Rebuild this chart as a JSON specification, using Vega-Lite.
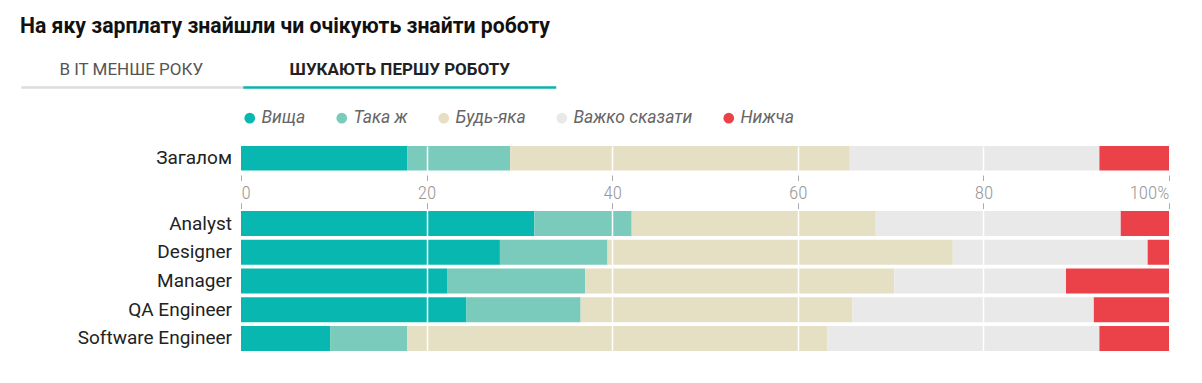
{
  "$schema": "https://vega.github.io/schema/vega-lite/v6.json",
  "background": "white",
  "padding": {"left": 20, "top": 15, "right": 10, "bottom": 10},
  "autosize": {"type": "pad"},
  "title": {
    "text": "На яку зарплату знайшли чи очікують знайти роботу",
    "anchor": "start",
    "font": "Roboto",
    "fontSize": 21.2,
    "fontWeight": "bold",
    "color": "#111111",
    "offset": 12
  },
  "config": {"view": {"stroke": null}, "font": "Roboto"},
  "spacing": 0,
  "resolve": {
    "scale": {"x": "independent", "y": "independent"},
    "legend": {"color": "independent"}
  },
  "datasets": {
    "tabs": [
      {"tab": "В ІТ МЕНШЕ РОКУ", "start": 0, "end": 222, "mid": 110, "active": false},
      {"tab": "ШУКАЮТЬ ПЕРШУ РОБОТУ", "start": 222, "end": 535, "mid": 378.5, "active": true}
    ],
    "salary": [
      {"group": "Загалом", "category": "Вища", "rank": 1, "value": 17.9},
      {"group": "Загалом", "category": "Така ж", "rank": 2, "value": 11.1},
      {"group": "Загалом", "category": "Будь-яка", "rank": 3, "value": 36.6},
      {"group": "Загалом", "category": "Важко сказати", "rank": 4, "value": 26.9},
      {"group": "Загалом", "category": "Нижча", "rank": 5, "value": 7.5},
      {"group": "Analyst", "category": "Вища", "rank": 1, "value": 31.6},
      {"group": "Analyst", "category": "Така ж", "rank": 2, "value": 10.5},
      {"group": "Analyst", "category": "Будь-яка", "rank": 3, "value": 26.3},
      {"group": "Analyst", "category": "Важко сказати", "rank": 4, "value": 26.4},
      {"group": "Analyst", "category": "Нижча", "rank": 5, "value": 5.2},
      {"group": "Designer", "category": "Вища", "rank": 1, "value": 27.9},
      {"group": "Designer", "category": "Така ж", "rank": 2, "value": 11.6},
      {"group": "Designer", "category": "Будь-яка", "rank": 3, "value": 37.2},
      {"group": "Designer", "category": "Важко сказати", "rank": 4, "value": 21.0},
      {"group": "Designer", "category": "Нижча", "rank": 5, "value": 2.3},
      {"group": "Manager", "category": "Вища", "rank": 1, "value": 22.2},
      {"group": "Manager", "category": "Така ж", "rank": 2, "value": 14.9},
      {"group": "Manager", "category": "Будь-яка", "rank": 3, "value": 33.3},
      {"group": "Manager", "category": "Важко сказати", "rank": 4, "value": 18.5},
      {"group": "Manager", "category": "Нижча", "rank": 5, "value": 11.1},
      {"group": "QA Engineer", "category": "Вища", "rank": 1, "value": 24.3},
      {"group": "QA Engineer", "category": "Така ж", "rank": 2, "value": 12.3},
      {"group": "QA Engineer", "category": "Будь-яка", "rank": 3, "value": 29.3},
      {"group": "QA Engineer", "category": "Важко сказати", "rank": 4, "value": 26.0},
      {"group": "QA Engineer", "category": "Нижча", "rank": 5, "value": 8.1},
      {"group": "Software Engineer", "category": "Вища", "rank": 1, "value": 9.6},
      {"group": "Software Engineer", "category": "Така ж", "rank": 2, "value": 8.3},
      {"group": "Software Engineer", "category": "Будь-яка", "rank": 3, "value": 45.3},
      {"group": "Software Engineer", "category": "Важко сказати", "rank": 4, "value": 29.3},
      {"group": "Software Engineer", "category": "Нижча", "rank": 5, "value": 7.5}
    ]
  },
  "vconcat": [
    {
      "width": 928,
      "height": 60,
      "data": {"name": "tabs"},
      "layer": [
        {
          "mark": {"type": "rule", "strokeWidth": 2.5},
          "encoding": {
            "x": {"field": "start", "type": "quantitative", "scale": {"domain": [0, 535], "range": [-219.75, 315.25], "nice": false, "zero": false}, "axis": null},
            "x2": {"field": "end"},
            "y": {"datum": 0.36, "type": "quantitative", "scale": {"domain": [0, 1], "nice": false}, "axis": null},
            "color": {"condition": {"test": "datum.active", "value": "#0bb3ab"}, "value": "#dddddd"}
          }
        },
        {
          "transform": [{"filter": "!datum.active"}],
          "mark": {"type": "text", "font": "Roboto", "fontSize": 17, "color": "#555555", "baseline": "alphabetic", "align": "center"},
          "encoding": {
            "x": {"field": "mid", "type": "quantitative"},
            "y": {"datum": 0.57, "type": "quantitative"},
            "text": {"field": "tab"}
          }
        },
        {
          "transform": [{"filter": "datum.active"}],
          "mark": {"type": "text", "font": "Roboto", "fontSize": 17, "fontWeight": "bold", "color": "#222222", "baseline": "alphabetic", "align": "center"},
          "encoding": {
            "x": {"field": "mid", "type": "quantitative"},
            "y": {"datum": 0.57, "type": "quantitative"},
            "text": {"field": "tab"}
          }
        }
      ]
    },
    {
      "width": 928,
      "height": 24.5,
      "data": {"name": "salary"},
      "transform": [{"filter": "datum.group === 'Загалом'"}],
      "mark": {"type": "bar"},
      "encoding": {
        "y": {
          "field": "group", "type": "nominal",
          "scale": {"paddingInner": 0, "paddingOuter": 0},
          "axis": {"title": null, "domain": false, "ticks": false, "tickSize": 0, "labelPadding": 9.5, "labelFont": "Roboto", "labelFontSize": 19, "labelColor": "#222222", "minExtent": 221, "maxExtent": 221}
        },
        "x": {
          "field": "value", "type": "quantitative", "stack": "zero",
          "scale": {"domain": [0, 100], "nice": false},
          "axis": {
            "orient": "bottom", "values": [0, 20, 40, 60, 80, 100], "title": null, "domain": false,
            "ticks": true, "tickSize": 5.5, "tickColor": "#aaaaaa", "tickWidth": 1, "offset": 4.5,
            "labelPadding": 2.5, "labelFont": "Roboto Condensed, Liberation Sans Narrow, Roboto", "labelFontWeight": 300, "labelFontSize": 19, "labelColor": "#999999",
            "labelFlush": true, "labelExpr": "datum.value == 100 ? '100%' : datum.label",
            "grid": true, "gridColor": "#ffffff", "gridWidth": 1.5,
            "gridOpacity": {"condition": {"test": "datum.value == 0 || datum.value == 100", "value": 0}, "value": 1},
            "zindex": 1
          }
        },
        "order": {"field": "rank", "type": "quantitative", "sort": "ascending"},
        "color": {
          "field": "category", "type": "nominal",
          "sort": ["Вища", "Така ж", "Будь-яка", "Важко сказати", "Нижча"],
          "scale": {
            "domain": ["Вища", "Така ж", "Будь-яка", "Важко сказати", "Нижча"],
            "range": ["#08b8b0", "#7acbbb", "#e5dfc4", "#e9e9e9", "#eb4249"]
          },
          "legend": {
            "orient": "top", "direction": "horizontal", "title": null,
            "symbolType": "circle", "symbolSize": 113, "symbolStrokeWidth": 0,
            "labelFont": "Roboto", "labelFontSize": 17.5, "labelFontStyle": "italic", "labelColor": "#666666",
            "labelOffset": 3, "columnPadding": 27, "offset": 19, "padding": 0
          }
        }
      }
    },
    {
      "width": 928,
      "height": 144,
      "data": {"name": "salary"},
      "transform": [{"filter": "datum.group !== 'Загалом'"}],
      "mark": {"type": "bar"},
      "encoding": {
        "y": {
          "field": "group", "type": "nominal",
          "sort": ["Analyst", "Designer", "Manager", "QA Engineer", "Software Engineer"],
          "scale": {"paddingInner": 0.13, "paddingOuter": 0.07},
          "axis": {"title": null, "domain": false, "ticks": false, "tickSize": 0, "labelPadding": 9.5, "labelFont": "Roboto", "labelFontSize": 19, "labelColor": "#222222", "minExtent": 221, "maxExtent": 221}
        },
        "x": {
          "field": "value", "type": "quantitative", "stack": "zero",
          "scale": {"domain": [0, 100], "nice": false},
          "axis": {
            "orient": "top", "values": [0, 20, 40, 60, 80, 100], "title": null, "domain": false,
            "labels": false, "ticks": true, "tickSize": 5.7, "tickColor": "#aaaaaa", "tickWidth": 1, "offset": 0.5,
            "grid": true, "gridColor": "#ffffff", "gridWidth": 1.5,
            "gridOpacity": {"condition": {"test": "datum.value == 0 || datum.value == 100", "value": 0}, "value": 1},
            "zindex": 1
          }
        },
        "order": {"field": "rank", "type": "quantitative", "sort": "ascending"},
        "color": {
          "field": "category", "type": "nominal",
          "sort": ["Вища", "Така ж", "Будь-яка", "Важко сказати", "Нижча"],
          "scale": {
            "domain": ["Вища", "Така ж", "Будь-яка", "Важко сказати", "Нижча"],
            "range": ["#08b8b0", "#7acbbb", "#e5dfc4", "#e9e9e9", "#eb4249"]
          },
          "legend": null
        }
      }
    }
  ]
}
